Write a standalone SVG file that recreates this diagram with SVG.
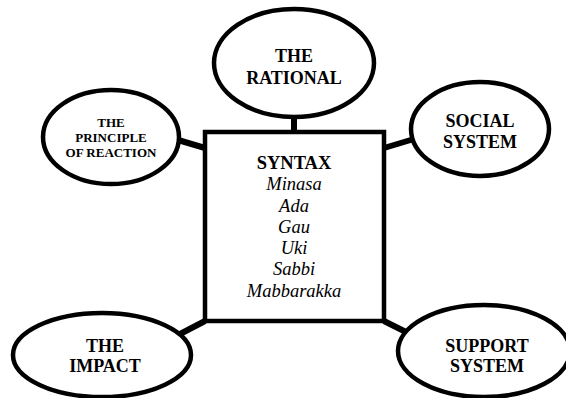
<svg xmlns="http://www.w3.org/2000/svg" width="566" height="398" viewBox="0 0 566 398">
<style>
.n{fill:#fff;stroke:#000;stroke-width:4.5}
.c line{stroke:#000;stroke-width:6}
.t{font-family:"Liberation Serif","Times New Roman",serif;font-weight:bold;text-anchor:middle;fill:#000}
.i{font-family:"Liberation Serif","Times New Roman",serif;font-style:italic;text-anchor:middle;fill:#000;font-size:18.5px}
</style>
<rect width="566" height="398" fill="#fff"/>
<g class="c" id="connectors">
<line x1="294" y1="116" x2="294" y2="133"/>
<line x1="178" y1="140" x2="205" y2="148"/>
<line x1="384" y1="148" x2="414" y2="139"/>
<line x1="205" y1="321" x2="180" y2="334"/>
<line x1="384" y1="321" x2="410" y2="334"/>
</g>
<g id="syntax">
<rect class="n" x="205" y="132" width="179" height="189"/>
<text class="t" x="294" y="169" font-size="18.5">SYNTAX</text>
<text class="i" x="294" y="190">Minasa</text>
<text class="i" x="294" y="212">Ada</text>
<text class="i" x="294" y="233">Gau</text>
<text class="i" x="294" y="254">Uki</text>
<text class="i" x="294" y="275">Sabbi</text>
<text class="i" x="294" y="297">Mabbarakka</text>
</g>
<g id="rational">
<ellipse class="n" cx="294" cy="63" rx="80" ry="54"/>
<text class="t" x="294" y="62" font-size="18">THE</text>
<text class="t" x="294" y="84" font-size="18">RATIONAL</text>
</g>
<g id="principle">
<ellipse class="n" cx="111" cy="137" rx="68" ry="47"/>
<text class="t" x="111" y="127" font-size="13">THE</text>
<text class="t" x="111" y="142" font-size="13">PRINCIPLE</text>
<text class="t" x="111" y="157" font-size="13">OF REACTION</text>
</g>
<g id="social">
<ellipse class="n" cx="480" cy="129" rx="69" ry="47"/>
<text class="t" x="480" y="127" font-size="18">SOCIAL</text>
<text class="t" x="480" y="148" font-size="18">SYSTEM</text>
</g>
<g id="impact">
<ellipse class="n" cx="102" cy="355" rx="89" ry="42"/>
<text class="t" x="105" y="352" font-size="18">THE</text>
<text class="t" x="105" y="372" font-size="18">IMPACT</text>
</g>
<g id="support">
<ellipse class="n" cx="484" cy="351" rx="86" ry="46"/>
<text class="t" x="487" y="352" font-size="18">SUPPORT</text>
<text class="t" x="487" y="372" font-size="18">SYSTEM</text>
</g>
</svg>
